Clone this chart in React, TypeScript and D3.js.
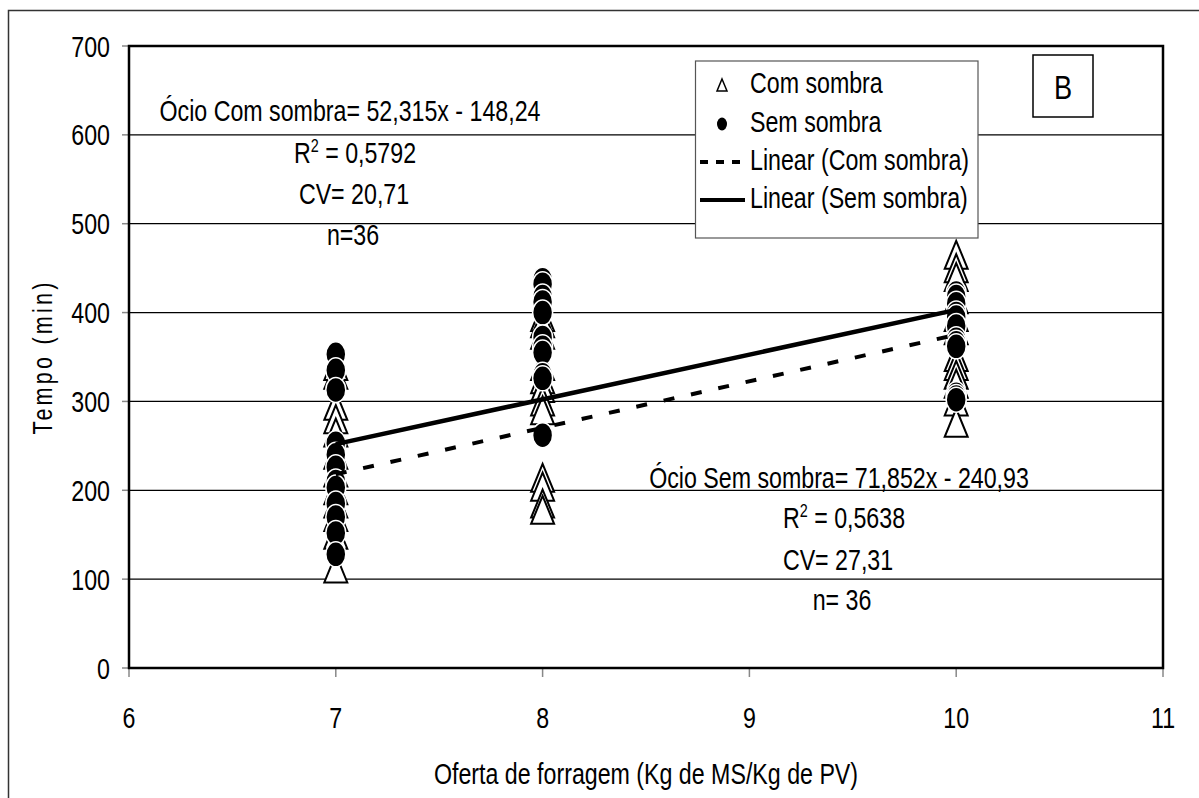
import React from "react";
import * as d3 from "d3";

// axis ticks
const xTicks = [6, 7, 8, 9, 10, 11];
const yTicks = [0, 100, 200, 300, 400, 500, 600, 700];

// Com sombra (triangles)
const comSombra7 = [340, 330, 295, 280, 265, 240, 220, 200, 185, 170, 150, 112];
const comSombra8 = [395, 388, 375, 340, 325, 315, 300, 290, 214, 204, 185, 178];
const comSombra10 = [465, 450, 440, 415, 395, 380, 350, 340, 330, 320, 300, 276];

// Sem sombra (filled circles)
const semSombra7 = [353, 335, 313, 253, 240, 226, 210, 203, 185, 170, 152, 128];
const semSombra8 = [437, 432, 418, 412, 400, 372, 361, 355, 330, 326, 262, 262];
const semSombra10 = [422, 418, 410, 399, 395, 385, 370, 366, 362, 308, 305, 302];

// trend lines as drawn
const linearCom = [
  { x: 7, y: 218 },
  { x: 10, y: 375 },
];
const linearSem = [
  { x: 7, y: 252 },
  { x: 10, y: 403 },
];

const annotCom = ["Ócio Com sombra= 52,315x - 148,24", "0,5792", "CV= 20,71", "n=36"];
const annotSem = ["Ócio Sem sombra= 71,852x - 240,93", "0,5638", "CV= 27,31", "n= 36"];

const legendLabels = ["Com sombra", "Sem sombra", "Linear (Com sombra)", "Linear (Sem sombra)"];

const FONT = "'Liberation Sans', Arial, sans-serif";
const SX = 0.8;

const toPoints = (x: number, vals: number[]) => vals.map((v) => ({ x, y: v }));

function T({ x, y, anchor = "start", size = 29, sx = SX, children }: any) {
  return (
    <g transform={`translate(${x},${y}) scale(${sx},1)`}>
      <text textAnchor={anchor} fontSize={size} fontFamily={FONT} fill="#000">
        {children}
      </text>
    </g>
  );
}

function R2({ x, y, value }: any) {
  return (
    <T x={x} y={y} anchor="middle">
      R<tspan fontSize={18} dy={-11}>2</tspan>
      <tspan dy={11}> = {value}</tspan>
    </T>
  );
}

export default function App() {
  const width = 1199;
  const height = 798;
  const margin = { left: 129, right: 1163, top: 46, bottom: 668 };

  const x = d3.scaleLinear().domain([6, 11]).range([margin.left, margin.right]);
  const y = d3.scaleLinear().domain([0, 700]).range([margin.bottom, margin.top]);

  const com = [
    ...toPoints(7, comSombra7),
    ...toPoints(8, comSombra8),
    ...toPoints(10, comSombra10),
  ];
  const sem = [
    ...toPoints(7, semSombra7),
    ...toPoints(8, semSombra8),
    ...toPoints(10, semSombra10),
  ];

  const line = d3
    .line<{ x: number; y: number }>()
    .x((d) => x(d.x))
    .y((d) => y(d.y));

  const tri = (s: number, h: number) => `M0,${-h / 2} L${s / 2},${h / 2} L${-s / 2},${h / 2} Z`;

  const legendY = [93, 132, 170, 208];

  return (
    <div style={{ position: "absolute", left: 0, top: 0 }}>
      <svg width={width} height={height} style={{ display: "block", background: "#fff" }}>
        <rect x={0} y={0} width={width} height={height} fill="#fff" />
        <rect x={8.5} y={10.5} width={1220} height={820} fill="none" stroke="#333" strokeWidth={1.5} />

        {/* grid */}
        {yTicks.map((t) => (
          <line key={"g" + t} x1={margin.left} x2={margin.right} y1={y(t)} y2={y(t)} stroke="#000" strokeWidth={1.2} />
        ))}

        {/* ticks */}
        {yTicks.map((t) => (
          <line key={"yt" + t} x1={margin.left - 7} x2={margin.left} y1={y(t)} y2={y(t)} stroke="#888" strokeWidth={1.5} />
        ))}
        {xTicks.map((t) => (
          <line key={"xt" + t} x1={x(t)} x2={x(t)} y1={margin.bottom} y2={margin.bottom + 9} stroke="#888" strokeWidth={1.5} />
        ))}

        {/* plot border */}
        <rect
          x={margin.left}
          y={margin.top}
          width={margin.right - margin.left}
          height={margin.bottom - margin.top}
          fill="none"
          stroke="#000"
          strokeWidth={2.5}
        />

        {/* tick labels */}
        {yTicks.map((t) => (
          <T key={"yl" + t} x={110} y={y(t) + 10.5} anchor="end">
            {t}
          </T>
        ))}
        {xTicks.map((t) => (
          <T key={"xl" + t} x={x(t)} y={728} anchor="middle">
            {t}
          </T>
        ))}

        {/* axis titles */}
        <g transform={`translate(52,357) rotate(-90) scale(0.8,1)`}>
          <text textAnchor="middle" fontSize={27} letterSpacing={4} fontFamily={FONT}>
            Tempo (min)
          </text>
        </g>
        <T x={646} y={784} anchor="middle">
          Oferta de forragem (Kg de MS/Kg de PV)
        </T>

        {/* Com sombra markers */}
        {com.map((d, i) => (
          <path
            key={"c" + i}
            d={tri(23, 28)}
            transform={`translate(${x(d.x)},${y(d.y)})`}
            fill="#fff"
            stroke="#000"
            strokeWidth={2}
          />
        ))}

        {/* Sem sombra markers */}
        {sem.map((d, i) => (
          <ellipse key={"s" + i} cx={x(d.x)} cy={y(d.y)} rx={10} ry={12.5} fill="#000" stroke="#fff" strokeWidth={1.5} />
        ))}

        {/* trend lines */}
        <path d={line(linearCom) || ""} fill="none" stroke="#000" strokeWidth={4} strokeDasharray="11 17" />
        <path d={line(linearSem) || ""} fill="none" stroke="#000" strokeWidth={4.5} />

        {/* annotations */}
        <T x={350} y={121} anchor="middle">{annotCom[0]}</T>
        <R2 x={355} y={163} value={annotCom[1]} />
        <T x={354} y={204} anchor="middle">{annotCom[2]}</T>
        <T x={353} y={245} anchor="middle">{annotCom[3]}</T>

        <T x={839} y={488} anchor="middle">{annotSem[0]}</T>
        <R2 x={844} y={528} value={annotSem[1]} />
        <T x={838} y={570} anchor="middle">{annotSem[2]}</T>
        <T x={842} y={610} anchor="middle">{annotSem[3]}</T>

        {/* legend */}
        <rect x={695.5} y={61} width={282.5} height={177} fill="#fff" stroke="#555" strokeWidth={1.2} />
        <path d={tri(10, 12)} transform={`translate(722,${legendY[0] - 8})`} fill="#fff" stroke="#000" strokeWidth={1.5} />
        <ellipse cx={722} cy={legendY[1] - 8} rx={5} ry={6.5} fill="#000" />
        <line x1={700} x2={745} y1={legendY[2] - 8} y2={legendY[2] - 8} stroke="#000" strokeWidth={4} strokeDasharray="8 8" />
        <line x1={700} x2={745} y1={legendY[3] - 8} y2={legendY[3] - 8} stroke="#000" strokeWidth={4} />
        {legendLabels.map((l, i) => (
          <T key={l} x={750} y={legendY[i]}>
            {l}
          </T>
        ))}

        {/* panel letter */}
        <rect x={1033} y={55} width={60} height={62} fill="#fff" stroke="#000" strokeWidth={1.5} />
        <T x={1063} y={99} anchor="middle" size={34}>
          B
        </T>
      </svg>
    </div>
  );
}
